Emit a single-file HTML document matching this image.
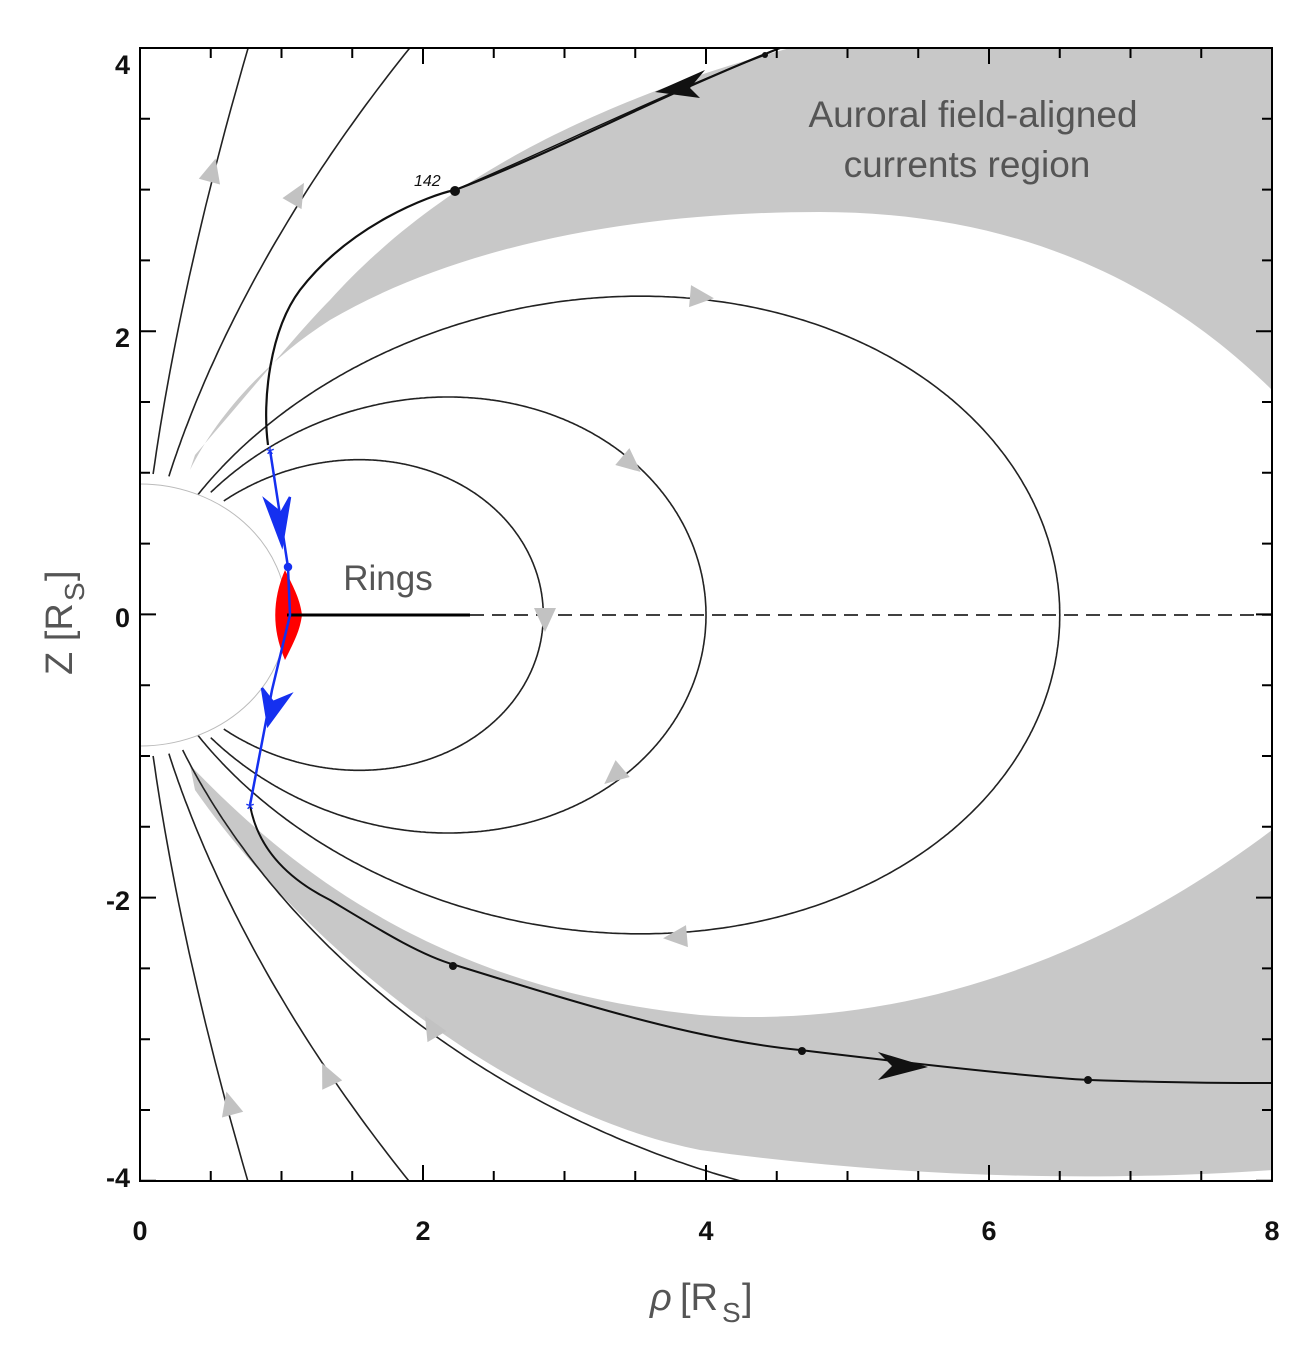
<!DOCTYPE html>
<html><head><meta charset="utf-8"><style>
html,body{margin:0;background:#fff;width:1294px;height:1346px;overflow:hidden}
svg{display:block}
text{font-family:"Liberation Sans",Arial,sans-serif}
</style></head><body>
<svg id="s" width="1294" height="1346" viewBox="0 0 1294 1346" xmlns="http://www.w3.org/2000/svg">
<defs><clipPath id="c"><rect x="140" y="48" width="1132" height="1133"/></clipPath></defs>
<g clip-path="url(#c)">
<path d="M195,455 C260,380 300,330 330,300 C420,200 560,110 790,48 L1272,48 L1272,390 C1150,270 1000,212 820,212 C620,212 450,250 330,320 C260,365 215,420 190,470 Z" fill="#c8c8c8"/>
<path d="M190,765 C300,880 450,990 700,1015 C900,1030 1100,960 1272,830 L1272,1170 C1100,1182 900,1178 700,1150 C500,1110 300,940 195,790 Z" fill="#c8c8c8"/>
<g id="lines" fill="none" stroke="#222" stroke-width="1.6"></g>
<path d="M268,445 C262,400 270,330 300,290 C350,225 430,195 455,190 C560,150 650,100 780,48" fill="none" stroke="#111" stroke-width="2.2"/>
<path d="M455,190 C560,145 660,95 765,55" fill="none" stroke="#111" stroke-width="1.4"/>
<path d="M250,805 C258,850 290,880 330,900 C380,930 420,955 455,965 C600,1010 700,1040 800,1050 C950,1068 1050,1078 1090,1080 C1180,1083 1230,1083 1272,1083" fill="none" stroke="#111" stroke-width="2"/>
<circle cx="455" cy="191" r="5" fill="#111"/><circle cx="453" cy="966" r="4" fill="#111"/><circle cx="802" cy="1051" r="4" fill="#111"/><circle cx="1088" cy="1080" r="4" fill="#111"/><circle cx="765" cy="55" r="3" fill="#111"/>
<path d="M655,92 L705,70 L690,88 L700,98 Z" fill="#111"/>
<path d="M928,1067 L878,1052 L892,1066 L878,1080 Z" fill="#111"/>
<ellipse cx="140" cy="615" rx="147" ry="131" fill="#fff" stroke="#bbb" stroke-width="1"/>
</g>
<path d="M285,570 C272,600 272,630 285,660 C295,640 300,630 302,615 C300,600 295,590 285,570 Z" fill="#f00"/>
<line x1="287" y1="615" x2="470" y2="615" stroke="#000" stroke-width="3"/>
<line x1="470" y1="615" x2="1272" y2="615" stroke="#000" stroke-width="1.6" stroke-dasharray="14,8"/>
<g stroke="#1530f0" stroke-width="2.5" fill="#1530f0">
<polyline points="270,450 288,567 290,615 272,690 250,805" fill="none"/>
<path d="M282,545 L265,500 L281,513 L290,497 Z"/>
<path d="M268,725 L262,688 L273,702 L290,695 Z"/>
<circle cx="288" cy="567" r="3"/>
<text x="270" y="462" font-size="22" text-anchor="middle" fill="#1530f0" stroke="none">*</text>
<text x="250" y="817" font-size="22" text-anchor="middle" fill="#1530f0" stroke="none">*</text>
</g>
<g id="arr" fill="#c2c2c2"></g>
<rect x="140" y="48" width="1132" height="1133" fill="none" stroke="#000" stroke-width="2"/>
<g id="ticks" stroke="#000" stroke-width="2"></g>
<g font-size="27" font-weight="bold" fill="#111" text-anchor="middle">
<text x="140" y="1240">0</text><text x="423" y="1240">2</text><text x="706" y="1240">4</text><text x="989" y="1240">6</text><text x="1272" y="1240">8</text>
</g>
<g font-size="27" font-weight="bold" fill="#111" text-anchor="end">
<text x="130" y="74">4</text><text x="130" y="347">2</text><text x="130" y="627">0</text><text x="130" y="910">-2</text><text x="130" y="1187">-4</text>
</g>
<text x="650" y="1310" font-size="38" fill="#555" font-style="italic">ρ</text>
<text x="680" y="1310" font-size="38" fill="#555">[R</text><text x="722" y="1322" font-size="28" fill="#555">S</text><text x="742" y="1310" font-size="38" fill="#555">]</text>
<g transform="translate(72,615) rotate(-90)"><text x="-60" y="0" font-size="38" fill="#555">Z [R</text><text x="14" y="12" font-size="28" fill="#555">S</text><text x="34" y="0" font-size="38" fill="#555">]</text></g>
<text x="973" y="127" font-size="37" fill="#555" text-anchor="middle">Auroral field-aligned</text>
<text x="967" y="177" font-size="37" fill="#555" text-anchor="middle">currents region</text>
<text x="388" y="590" font-size="35" fill="#555" text-anchor="middle">Rings</text>
<text x="414" y="186" font-size="16" font-style="italic" fill="#111">142</text>
</svg>
<script>
var X=r=>140+141.5*r, Y=z=>615-141.6*z;
var g=document.getElementById('lines'),ns='http://www.w3.org/2000/svg';
function dip(L,zs,sign){var d='';var t0=Math.asin(Math.min(1,Math.sqrt(1/L)));for(var i=0;i<=400;i++){var th=t0+i*(Math.PI/2-t0)/400;var s=Math.sin(th),r=L*s*s;var rho=r*s,z=r*Math.cos(th)*zs*sign;d+=(i?'L':'M')+X(rho).toFixed(1)+','+Y(z).toFixed(1);if(Math.abs(z)>4.05)break;}return d;}
function add(d){var p=document.createElementNS(ns,'path');p.setAttribute('d',d);g.appendChild(p);}
[[2.85,1],[4,1],[6.5,0.9]].forEach(a=>{add(dip(a[0],a[1],1));add(dip(a[0],a[1],-1));});
[116,24].forEach(L=>{add(dip(L,1,1));add(dip(L,1,-1));});
add(dip(11,1,-1));
var t=document.getElementById('ticks'),s='';
for(var i=0;i<=16;i++){var x=140+i*70.75,l=i%4==0?16:10;s+='M'+x+',1181v-'+l+'M'+x+',48v'+l;}
for(var i=0;i<=16;i++){var y=48+i*70.8,l=i%4==0?16:10;s+='M140,'+y+'h'+l+'M1272,'+y+'h-'+l;}
var p=document.createElementNS(ns,'path');p.setAttribute('d',s);t.appendChild(p);
var A=document.getElementById('arr');
function tri(x,y,ang){var p=document.createElementNS(ns,'path');p.setAttribute('d','M14,0 L-10,-11 L-10,11 Z');p.setAttribute('transform','translate('+x+','+y+') rotate('+ang+')');A.appendChild(p);}
tri(212,172,-75);tri(297,195,-60);tri(700,297,5);tri(630,463,40);tri(545,618,90);
tri(615,775,140);tri(677,937,175);tri(432,1028,-120);tri(328,1076,-115);tri(230,1105,-105);
</script>
</body></html>
